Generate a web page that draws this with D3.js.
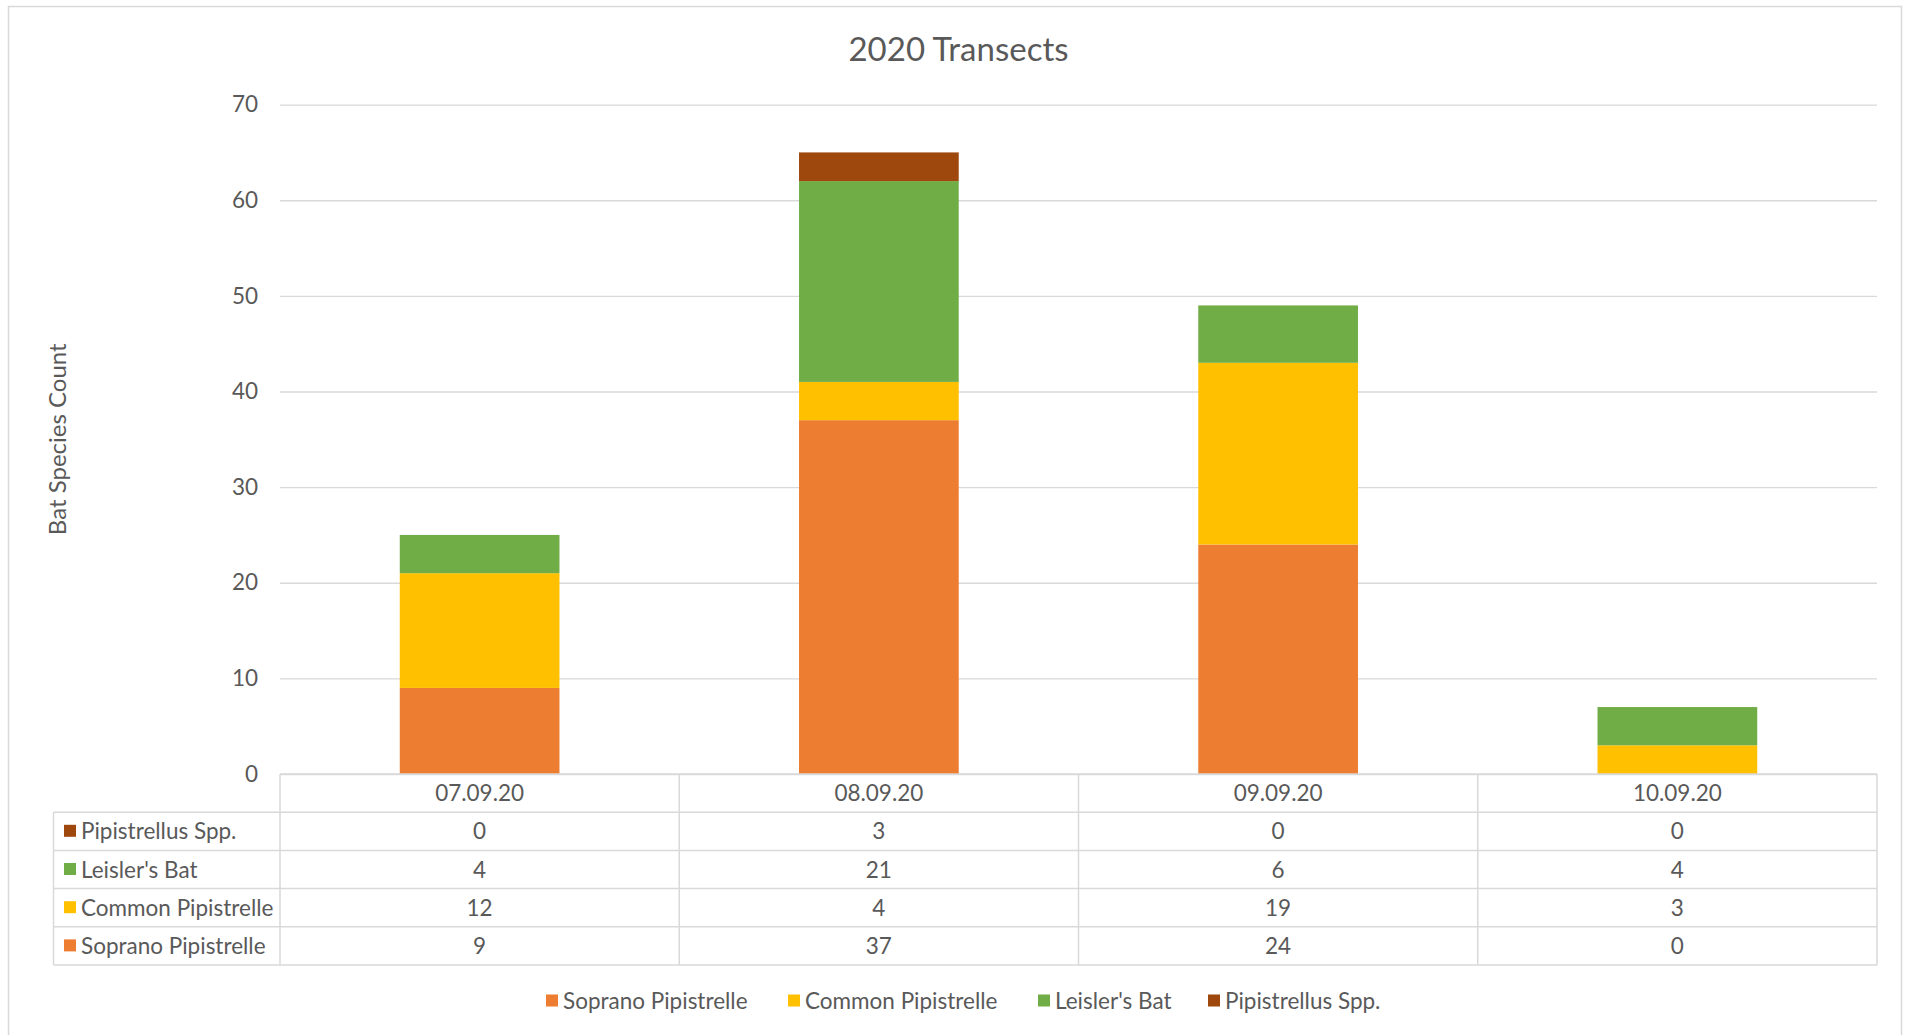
<!DOCTYPE html>
<html>
<head>
<meta charset="utf-8">
<script src="https://cdn.jsdelivr.net/npm/d3@7"></script>
<style>
  html, body { margin: 0; padding: 0; background: #fff; }
  svg { display: block; font-family: Lato, "Open Sans", sans-serif; }
</style>
</head>
<body>
<svg id="chart" width="1908" height="1035"></svg>
<script>
// Survey dates (x categories)
const dates = ["07.09.20", "08.09.20", "09.09.20", "10.09.20"];
// Species, in stacking order (bottom to top)
const species = ["Soprano Pipistrelle", "Common Pipistrelle", "Leisler's Bat", "Pipistrellus Spp."];
const speciesColors = ["#ED7D31", "#FFC000", "#70AD47", "#9E480E"];
// Counts per species per date
const sopranoCounts = [9, 37, 24, 0];
const commonCounts = [12, 4, 19, 3];
const leislerCounts = [4, 21, 6, 4];
const sppCounts = [0, 3, 0, 0];
const yTicks = [0, 10, 20, 30, 40, 50, 60, 70];

const seriesValues = [sopranoCounts, commonCounts, leislerCounts, sppCounts];
const rows = dates.map((d, i) => {
  const r = { date: d };
  species.forEach((s, k) => { r[s] = seriesValues[k][i]; });
  return r;
});

const svg = d3.select("#chart");
const textColor = "#595959";
const lineColor = "#D9D9D9";
const bodyFont = 22.5;

const plot = { left: 280, right: 1877, top: 104.6, bottom: 774 };

// outer chart frame
svg.append("rect")
  .attr("x", 8.5).attr("y", 6.5)
  .attr("width", 1893).attr("height", 1060)
  .attr("fill", "none").attr("stroke", lineColor).attr("stroke-width", 1.5);

// title
svg.append("text")
  .attr("x", (plot.left + plot.right) / 2 - 120).attr("y", 61)
  .attr("text-anchor", "middle")
  .attr("fill", textColor)
  .attr("font-size", 33)
  .text("2020 Transects");

const x = d3.scaleBand().domain(dates).range([plot.left, plot.right]).paddingInner(0);
const y = d3.scaleLinear().domain([0, 70]).range([plot.bottom, plot.top]);

// horizontal gridlines + tick labels
const yAxis = d3.axisLeft(y).tickValues(yTicks).tickSize(-(plot.right - plot.left)).tickPadding(22);
const gy = svg.append("g").attr("transform", `translate(${plot.left},0)`).call(yAxis);
gy.select(".domain").remove();
gy.selectAll(".tick line").attr("stroke", lineColor).attr("stroke-width", 1.3);
gy.selectAll(".tick text").attr("fill", textColor).attr("font-size", bodyFont)
  .attr("font-family", "Lato, sans-serif");

// y-axis title
svg.append("text")
  .attr("transform", `translate(66,${(plot.top + plot.bottom) / 2}) rotate(-90)`)
  .attr("text-anchor", "middle")
  .attr("fill", textColor)
  .attr("font-size", 24)
  .text("Bat Species Count");

// stacked bars
const stack = d3.stack().keys(species);
const stacked = stack(rows);
const barW = x.bandwidth() * 0.4;
svg.append("g").selectAll("g")
  .data(stacked)
  .join("g")
  .attr("fill", (d, i) => speciesColors[i])
  .selectAll("rect")
  .data(d => d)
  .join("rect")
  .attr("x", d => x(d.data.date) + (x.bandwidth() - barW) / 2)
  .attr("width", barW)
  .attr("y", d => y(d[1]))
  .attr("height", d => y(d[0]) - y(d[1]));

// data table under the axis
const table = { left: 53.5, headerTop: plot.bottom, rowH: 38.2 };
const tableRows = species.slice().reverse(); // top row is last series
const tableBottom = table.headerTop + table.rowH * (tableRows.length + 1);
const gt = svg.append("g");

// horizontal rules
gt.append("line")
  .attr("x1", plot.left).attr("x2", plot.right)
  .attr("y1", table.headerTop).attr("y2", table.headerTop)
  .attr("stroke", lineColor).attr("stroke-width", 1.5);
d3.range(1, tableRows.length + 2).forEach(k => {
  const yy = table.headerTop + table.rowH * k;
  gt.append("line")
    .attr("x1", table.left).attr("x2", plot.right)
    .attr("y1", yy).attr("y2", yy)
    .attr("stroke", lineColor).attr("stroke-width", 1.5);
});
// vertical rules
gt.append("line")
  .attr("x1", table.left).attr("x2", table.left)
  .attr("y1", table.headerTop + table.rowH).attr("y2", tableBottom)
  .attr("stroke", lineColor).attr("stroke-width", 1.5);
dates.forEach(d => {
  gt.append("line")
    .attr("x1", x(d)).attr("x2", x(d))
    .attr("y1", table.headerTop).attr("y2", tableBottom)
    .attr("stroke", lineColor).attr("stroke-width", 1.5);
});
gt.append("line")
  .attr("x1", plot.right).attr("x2", plot.right)
  .attr("y1", table.headerTop).attr("y2", tableBottom)
  .attr("stroke", lineColor).attr("stroke-width", 1.5);

// header: dates
gt.selectAll("text.date")
  .data(dates)
  .join("text")
  .attr("class", "date")
  .attr("x", d => x(d) + x.bandwidth() / 2)
  .attr("y", table.headerTop + table.rowH / 2)
  .attr("dy", "0.36em")
  .attr("text-anchor", "middle")
  .attr("fill", textColor)
  .attr("font-size", bodyFont)
  .text(d => d);

// body rows
tableRows.forEach((s, r) => {
  const k = species.indexOf(s);
  const cy = table.headerTop + table.rowH * (r + 1.5);
  gt.append("rect")
    .attr("x", 64).attr("y", cy - 6.5)
    .attr("width", 12).attr("height", 12)
    .attr("fill", speciesColors[k]);
  gt.append("text")
    .attr("x", 81).attr("y", cy).attr("dy", "0.36em")
    .attr("fill", textColor).attr("font-size", bodyFont)
    .text(s);
  gt.selectAll(null)
    .data(rows)
    .join("text")
    .attr("x", d => x(d.date) + x.bandwidth() / 2)
    .attr("y", cy).attr("dy", "0.36em")
    .attr("text-anchor", "middle")
    .attr("fill", textColor).attr("font-size", bodyFont)
    .text(d => d[s]);
});

// bottom legend
const legendY = 1001;
const legendX = [546, 788, 1038, 1208];
const gl = svg.append("g");
species.forEach((s, i) => {
  gl.append("rect")
    .attr("x", legendX[i]).attr("y", legendY - 6.5)
    .attr("width", 12).attr("height", 12)
    .attr("fill", speciesColors[i]);
  gl.append("text")
    .attr("x", legendX[i] + 17).attr("y", legendY).attr("dy", "0.36em")
    .attr("fill", textColor).attr("font-size", bodyFont)
    .text(s);
});
</script>
</body>
</html>
